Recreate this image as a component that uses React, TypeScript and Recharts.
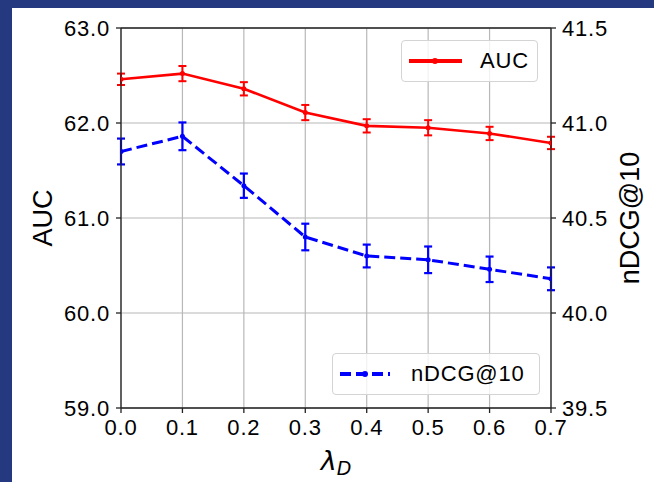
import React from "react";
import {
  ComposedChart, Line, XAxis, YAxis, CartesianGrid, ErrorBar, ReferenceLine, Label,
} from "recharts";

// λ_D sweep
const lambdas = [0.0, 0.1, 0.2, 0.3, 0.4, 0.5, 0.6, 0.7];
const auc = [62.46, 62.52, 62.36, 62.11, 61.97, 61.95, 61.89, 61.79];
const aucErr = [0.06, 0.08, 0.07, 0.08, 0.07, 0.08, 0.07, 0.065];
const ndcg = [40.85, 40.93, 40.67, 40.4, 40.3, 40.28, 40.23, 40.18];
const ndcgErr = [0.068, 0.073, 0.064, 0.07, 0.06, 0.07, 0.067, 0.06];

const aucTicks = [59, 60, 61, 62, 63];
const ndcgTicks = [39.5, 40, 40.5, 41, 41.5];

const data = lambdas.map((x, i) => ({
  x,
  auc: auc[i],
  aucErr: aucErr[i],
  ndcg: ndcg[i],
  ndcgErr: ndcgErr[i],
}));

const FONT = "'Liberation Sans', Arial, sans-serif";
const tickStyle = { fontSize: 22, fill: "#000", fontFamily: FONT, letterSpacing: 0.8 };
const AXIS = "#222";

const XTitle = (props: any) => {
  const { x, y, width } = props.viewBox;
  return (
    <text
      x={x + width / 2}
      y={y + 62}
      textAnchor="middle"
      fontFamily="'DejaVu Sans', sans-serif"
      fontStyle="italic"
      fontSize={27}
      fill="#000"
    >
      λ<tspan fontSize={19} dy={5}>D</tspan>
    </text>
  );
};

function LegendBox({ left, top, width, label, color, dashed }: any) {
  return (
    <div
      style={{
        position: "absolute", left, top, width, height: 42, boxSizing: "border-box",
        border: "1px solid #d4d4d4", borderRadius: 4, background: "rgba(255,255,255,0.8)",
        display: "flex", alignItems: "center", fontFamily: FONT, fontSize: 22,
        letterSpacing: 0.8, color: "#000",
      }}
    >
      <svg width={60} height={20} style={{ marginLeft: 6, marginRight: 12 }}>
        <line
          x1={1} y1={10} x2={dashed ? 51 : 54} y2={10}
          stroke={color} strokeWidth={4}
          strokeDasharray={dashed ? "11 5" : undefined}
        />
        <circle cx={dashed ? 26 : 27} cy={10} r={3} fill={color} />
      </svg>
      <span>{label}</span>
    </div>
  );
}

export default function App() {
  return (
    <div style={{ position: "relative", width: 654, height: 482, background: "#24397f", overflow: "hidden" }}>
      <style>{`body{margin:0}`}</style>
      <div style={{ position: "absolute", left: 12, top: 8, width: 642, height: 474, background: "#fff" }} />
      <div style={{ position: "absolute", left: 0, top: 0 }}>
        <ComposedChart
          width={654}
          height={482}
          data={data}
          margin={{ top: 28, right: 23, bottom: 34, left: 41 }}
        >
          <CartesianGrid yAxisId="left" stroke="#b8b8b8" strokeWidth={1.2} verticalPoints={undefined} />
          <XAxis
            type="number"
            dataKey="x"
            domain={[0, 0.7]}
            ticks={lambdas}
            interval={0}
            allowDataOverflow
            tickFormatter={(v: number) => v.toFixed(1)}
            tick={tickStyle}
            tickSize={5}
            tickMargin={6}
            height={40}
            stroke={AXIS}
            strokeWidth={1.3}
          >
            <Label content={XTitle} />
          </XAxis>
          <YAxis
            yAxisId="left"
            domain={[59, 63]}
            ticks={aucTicks}
            interval={0}
            allowDataOverflow
            tickFormatter={(v: number) => v.toFixed(1)}
            tick={tickStyle}
            tickSize={5}
            tickMargin={6}
            width={80}
            stroke={AXIS}
            strokeWidth={1.3}
            label={{
              value: "AUC", angle: -90, position: "insideLeft", offset: 1,
              style: { textAnchor: "middle", fontSize: 27, fill: "#000", fontFamily: FONT },
            }}
          />
          <YAxis
            yAxisId="right"
            orientation="right"
            domain={[39.5, 41.5]}
            ticks={ndcgTicks}
            interval={0}
            allowDataOverflow
            tickFormatter={(v: number) => v.toFixed(1)}
            tick={tickStyle}
            tickSize={5}
            tickMargin={6}
            width={80}
            stroke={AXIS}
            strokeWidth={1.3}
            label={{
              value: "nDCG@10", angle: -90, position: "insideRight", offset: 2,
              style: { textAnchor: "middle", fontSize: 27, fill: "#000", fontFamily: FONT },
            }}
          />
          <ReferenceLine yAxisId="left" y={63} stroke={AXIS} strokeWidth={1.3} />
          <Line
            yAxisId="left"
            dataKey="auc"
            stroke="#ff0000"
            strokeWidth={2.6}
            dot={{ r: 2.5, fill: "#ff0000", stroke: "#ff0000", strokeWidth: 0 }}
            isAnimationActive={false}
          >
            <ErrorBar dataKey="aucErr" direction="y" width={4} stroke="#ff0000" strokeWidth={2} />
          </Line>
          <Line
            yAxisId="right"
            dataKey="ndcg"
            stroke="#0000ff"
            strokeWidth={3}
            strokeDasharray="11 5"
            dot={{ r: 2.5, fill: "#0000ff", stroke: "#0000ff", strokeWidth: 0 }}
            isAnimationActive={false}
          >
            <ErrorBar dataKey="ndcgErr" direction="y" width={4} stroke="#0000ff" strokeWidth={2.2} />
          </Line>
        </ComposedChart>
      </div>
      <LegendBox left={401} top={40} width={137} label="AUC" color="#ff0000" />
      <LegendBox left={332} top={353} width={208} label="nDCG@10" color="#0000ff" dashed />
    </div>
  );
}
